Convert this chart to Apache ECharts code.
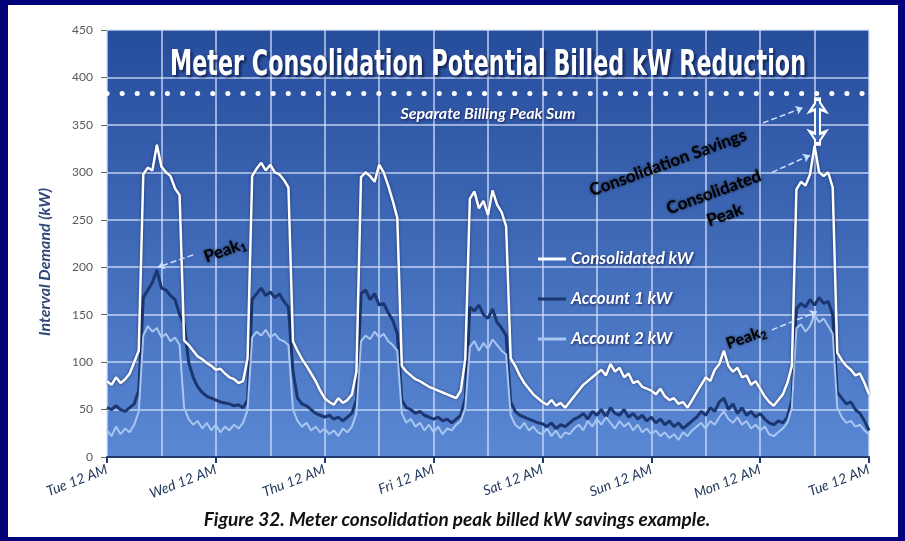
<!DOCTYPE html>
<html>
<head>
<meta charset="utf-8">
<script src="https://cdn.jsdelivr.net/npm/echarts@6/dist/echarts.min.js"></script>
<style>
html,body{margin:0;padding:0;background:#fff;}
#chart{width:905px;height:541px;}
</style>
</head>
<body>
<div id="chart"></div>
<script>
// hourly readings, Tue 12 AM (hour 0) to next Tue 12 AM (hour 168)
var dayLabels = ['Tue 12 AM','Wed 12 AM','Thu 12 AM','Fri 12 AM','Sat 12 AM','Sun 12 AM','Mon 12 AM','Tue 12 AM'];
var consolidated = [
    80,76,84,78,82,88,100,112, 298,305,302,329,306,300,296,283,276, 123,118,112,106,103,99,96,
    92,93,88,84,82,78,80,104, 296,304,310,302,308,300,298,292,284, 122,112,103,96,88,80,70,
    62,58,55,62,57,60,66,90, 295,300,296,290,308,300,286,270,252, 96,90,86,82,80,77,74,
    72,70,68,66,64,62,70,104, 272,280,262,270,255,281,266,258,243, 104,96,86,78,72,66,62,
    58,55,60,54,57,52,58,64,70,76,80,84,88,92,86,98,90,94,84,88,78,80,74,72,
    70,66,72,64,60,62,56,58,52,60,68,76,84,80,92,98,112,96,90,94,84,86,76,80,
    72,64,58,54,60,66,78,96, 282,290,286,298,328,300,296,300,284, 110,102,96,92,86,88,78,
    66
];
var account1 = [
    52,50,54,50,48,52,56,70, 168,176,184,197,178,176,170,166,150, 140,100,84,74,68,64,62,
    60,58,57,56,54,55,52,60, 166,172,178,170,174,168,172,164,158, 90,62,56,54,50,46,44,
    42,44,40,42,38,42,46,60, 172,176,166,172,160,162,152,144,130, 60,52,50,46,48,44,42,
    40,42,38,40,36,40,44,62, 158,154,160,150,146,156,142,136,128, 58,48,44,42,40,38,36,
    35,32,36,30,34,32,36,40,42,46,40,48,44,50,42,52,46,44,50,42,46,40,44,38,
    42,36,40,34,38,32,36,30,34,38,42,48,44,52,48,58,62,50,56,46,52,44,48,42,
    46,40,36,34,38,36,42,60, 156,162,158,166,160,168,162,164,150, 68,62,56,58,50,46,38,
    28
];
var account2 = [
    28,22,32,24,30,26,34,48, 128,138,132,136,126,130,122,126,118, 52,40,34,38,30,36,28,
    34,26,32,28,34,30,36,50, 126,132,128,134,126,130,124,122,118, 50,38,32,36,28,32,26,
    30,24,28,22,30,26,32,46, 122,128,124,132,126,130,122,118,112, 46,36,40,32,36,28,34,
    26,32,24,30,28,34,38,52, 116,122,112,120,114,124,118,112,108, 44,34,30,36,28,32,26,
    24,30,22,28,20,26,24,30,34,28,38,32,40,34,42,36,30,38,32,36,28,34,26,30,
    24,28,22,26,20,24,18,26,22,28,32,36,30,38,34,42,48,40,36,42,34,38,30,34,
    28,32,24,22,26,30,36,52, 136,140,132,138,150,142,146,138,130, 52,42,36,38,32,34,28,
    24
];
var peakSum = 383;

function toPairs(arr) {
    return arr.map(function (v, i) { return [i, v]; });
}

var whiteText = {
    color: '#fff', fontStyle: 'italic', fontWeight: 'bold', fontFamily: 'Lato',
    textShadowColor: 'rgba(0,0,40,0.7)', textShadowBlur: 3, textShadowOffsetX: 1, textShadowOffsetY: 1
};
var arrowLine = {color: '#cfe0ff', width: 1.5, type: 'dashed'};

var myChart = echarts.init(document.getElementById('chart'));
var option = {
    backgroundColor: '#fff',
    animation: false,
    grid: {
        left: 107, right: 36, top: 30, bottom: 84,
        show: true, borderWidth: 0,
        backgroundColor: {
            type: 'linear', x: 0, y: 0, x2: 0, y2: 1,
            colorStops: [{offset: 0, color: '#264c9c'}, {offset: 1, color: '#5a88d4'}]
        }
    },
    legend: {
        data: [
            {name: 'Consolidated kW', icon: 'rect'},
            {name: 'Account 1 kW', icon: 'rect'},
            {name: 'Account 2 kW', icon: 'rect'}
        ],
        orient: 'vertical', left: 533, top: 244,
        itemWidth: 28, itemHeight: 3, itemGap: 20,
        textStyle: Object.assign({fontSize: 17, lineHeight: 20}, whiteText)
    },
    xAxis: {
        type: 'value', min: 0, max: 168, interval: 24,
        axisLine: {lineStyle: {color: '#1f3a6e', width: 2}},
        axisTick: {show: true, length: 6, lineStyle: {color: '#1f3a6e', width: 2}},
        minorTick: {show: false, splitNumber: 2},
        splitLine: {show: true, lineStyle: {color: 'rgba(215,228,252,0.85)', width: 1.5}},
        minorSplitLine: {show: true, lineStyle: {color: 'rgba(215,228,252,0.85)', width: 1.5}},
        axisLabel: {
            rotate: 21, margin: 12, fontSize: 14, fontStyle: 'italic', fontFamily: 'Lato',
            color: '#23395d',
            formatter: function (v) { return dayLabels[v / 24]; }
        }
    },
    yAxis: {
        type: 'value', min: 0, max: 450, interval: 50,
        axisLine: {show: false},
        axisTick: {show: true, length: 6, lineStyle: {color: '#666'}},
        splitLine: {show: true, lineStyle: {color: 'rgba(215,228,252,0.85)', width: 1.5}},
        axisLabel: {margin: 14, fontSize: 12, color: '#595959', fontFamily: 'Lato'}
    },
    series: [
        {
            name: 'Account 1 kW', type: 'line', symbol: 'none',
            lineStyle: {color: '#1b3670', width: 3}, itemStyle: {color: '#1b3670'},
            data: toPairs(account1)
        },
        {
            name: 'Account 2 kW', type: 'line', symbol: 'none',
            lineStyle: {color: '#a9c6f0', width: 2}, itemStyle: {color: '#a9c6f0'},
            data: toPairs(account2)
        },
        {
            name: 'Consolidated kW', type: 'line', symbol: 'none',
            lineStyle: {color: '#fff', width: 2.5, shadowColor: 'rgba(0,0,40,0.5)', shadowBlur: 3},
            itemStyle: {color: '#fff'},
            data: toPairs(consolidated),
            markLine: {
                silent: true, symbol: 'none',
                data: [
                    {
                        yAxis: peakSum,
                        lineStyle: {color: '#fff', width: 5, type: [0.1, 15], cap: 'round'},
                        label: Object.assign({
                            show: true, position: 'insideMiddleBottom', distance: 12,
                            fontSize: 16, formatter: 'Separate Billing Peak Sum'
                        }, whiteText)
                    },
                    [{coord: [19, 213], lineStyle: arrowLine, symbol: 'none'}, {coord: [11.2, 200], symbol: 'arrow', symbolSize: 7}],
                    [{coord: [144.6, 352], lineStyle: arrowLine, symbol: 'none'}, {coord: [153.4, 368], symbol: 'arrow', symbolSize: 7}],
                    [{coord: [146.6, 300], lineStyle: arrowLine, symbol: 'none'}, {coord: [155, 318], symbol: 'arrow', symbolSize: 7}],
                    [{coord: [146.6, 134], lineStyle: arrowLine, symbol: 'none'}, {coord: [156.5, 153], symbol: 'arrow', symbolSize: 7}],
                    [{coord: [156.7, 379], lineStyle: {color: '#fff', width: 7, type: 'solid'}, symbol: 'arrow', symbolSize: 17},
                     {coord: [156.7, 328], symbol: 'arrow', symbolSize: 17}],
                    [{coord: [156.7, 375], lineStyle: {color: '#3a64b4', width: 3, type: 'solid'}, symbol: 'arrow', symbolSize: 8},
                     {coord: [156.7, 332], symbol: 'arrow', symbolSize: 8}]
                ]
            }
        }
    ]
};
myChart.setOption(option);

function px(h, v) {
    return myChart.convertToPixel({gridIndex: 0}, [h, v]);
}

var titleText = 'Meter Consolidation Potential Billed kW Reduction';
var titleFont = 'bold 36px "Liberation Sans Narrow", "DejaVu Sans Condensed", sans-serif';
var cv = document.createElement('canvas').getContext('2d');
cv.font = titleFont;
var titleScale = 636 / cv.measureText(titleText).width;

var rot = 20 * Math.PI / 180;
function note(text, h, v, size) {
    var p = px(h, v);
    return {
        type: 'text', x: p[0], y: p[1], rotation: rot, z: 10,
        style: {
            text: text, align: 'center', verticalAlign: 'middle',
            font: 'bold ' + size + 'px Lato', fill: '#000',
            textShadowColor: 'rgba(0,0,0,0.7)', textShadowBlur: 3,
            rich: {s: {font: 'bold 11px Lato', fill: '#000', padding: [9, 0, 0, 0]}}
        }
    };
}

var navy = '#02027a';
var titlePos = px(84, 412);
myChart.setOption({
    graphic: [
        {type: 'rect', shape: {x: 0, y: 0, width: 905, height: 5}, style: {fill: navy}, z: 20},
        {type: 'rect', shape: {x: 0, y: 0, width: 8, height: 541}, style: {fill: navy}, z: 20},
        {type: 'rect', shape: {x: 898, y: 0, width: 7, height: 541}, style: {fill: navy}, z: 20},
        {type: 'rect', shape: {x: 0, y: 537, width: 905, height: 4}, style: {fill: navy}, z: 20},
        {
            type: 'text', x: titlePos[0], y: titlePos[1], scaleX: titleScale, z: 10,
            style: {
                text: titleText, align: 'center', verticalAlign: 'middle', font: titleFont, fill: '#fff',
                textShadowColor: 'rgba(10,20,60,0.8)', textShadowBlur: 3, textShadowOffsetX: 2, textShadowOffsetY: 2
            }
        },
        {
            type: 'text', x: 45, y: 262, rotation: Math.PI / 2, z: 10,
            style: {
                text: 'Interval Demand (kW)', align: 'center', verticalAlign: 'middle',
                font: 'italic bold 16px Lato', fill: '#304878'
            }
        },
        {
            type: 'text', x: 457, y: 520, z: 10,
            style: {
                text: 'Figure 32. Meter consolidation peak billed kW savings example.',
                align: 'center', verticalAlign: 'middle', font: 'italic bold 19px Lato', fill: '#111'
            }
        },
        note('Peak{s|1}', 26, 218, 17),
        note('Consolidation Savings', 123.7, 310, 17),
        note('Consolidated', 133.8, 279, 17),
        note('Peak', 136.2, 255, 17),
        note('Peak{s|2}', 140.9, 126, 16)
    ]
});
</script>
</body>
</html>
